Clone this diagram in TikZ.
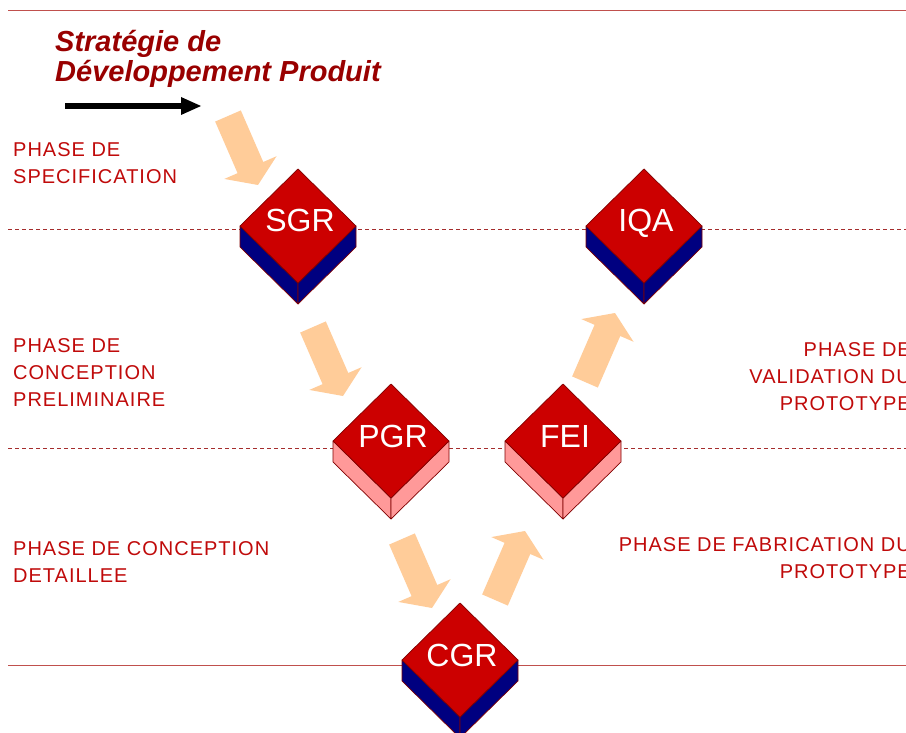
\documentclass[tikz,border=0pt]{standalone}
\usepackage{fontspec}
\setmainfont{Liberation Sans}
\newfontfamily\phasefont[LetterSpace=5]{Liberation Sans}
\usetikzlibrary{calc}
\definecolor{topc}{RGB}{204,0,0}
\definecolor{navyc}{RGB}{0,0,128}
\definecolor{pinkc}{RGB}{255,153,153}
\definecolor{edgec}{RGB}{128,0,0}
\definecolor{peachc}{RGB}{255,204,153}
\definecolor{rulec}{RGB}{192,80,77}
\definecolor{dashc}{RGB}{165,45,45}
\definecolor{phasec}{RGB}{192,10,10}
\definecolor{titlec}{RGB}{153,0,0}
\tikzset{
  rulesolid/.style={draw=rulec, line width=1pt},
  ruledash/.style={draw=dashc, line width=0.9pt, dash pattern=on 4pt off 3pt},
  phaselabel/.style={inner sep=0pt, text=phasec, font={\phasefont\fontsize{20}{27}\selectfont}},
  titletext/.style={inner sep=0pt, anchor=base west, text=titlec, font={\bfseries\itshape\fontsize{29}{30}\selectfont}},
  cubelabel/.style={inner sep=0pt, text=white, font={\fontsize{32}{34}\selectfont}},
  cubeside/.style={draw=edgec, line width=0.7pt, line join=round},
}
\newcommand\blockcube[5]{% name, x, y, side colour, label
  \begin{scope}[shift={(#2,#3)}]
    \filldraw[cubeside, fill=#4] (-58,0) -- (0,57) -- (0,78) -- (-58,21) -- cycle;
    \filldraw[cubeside, fill=#4] (58,0) -- (0,57) -- (0,78) -- (58,21) -- cycle;
    \filldraw[cubeside, fill=topc] (0,-57) -- (58,0) -- (0,57) -- (-58,0) -- cycle;
    \node[cubelabel, anchor=base] (#1) at (2,6) {#5};
  \end{scope}}
\newcommand\fatarrow[6]{% colour, shaft half, head half, head length, from, to
  \coordinate (fa-h) at ($(#6)!#4!(#5)$);
  \fill[#1] ($(#5)!#2!90:(#6)$) -- ($(fa-h)!#2!90:(#6)$) -- ($(fa-h)!#3!90:(#6)$) -- (#6)
    -- ($(fa-h)!#3!-90:(#6)$) -- ($(fa-h)!#2!-90:(#6)$) -- ($(#5)!#2!-90:(#6)$) -- cycle;}
\begin{document}
\begin{tikzpicture}[x=1pt, y=-1pt]
  \useasboundingbox (0,0) rectangle (906,733);
  \fill[white] (0,0) rectangle (906,733);
  \clip (0,0) rectangle (906,733);

  % rules
  \coordinate (r1a) at (8,10.5);  \coordinate (r1b) at (906,10.5);
  \coordinate (r2a) at (8,229);   \coordinate (r2b) at (906,229);
  \coordinate (r3a) at (8,448);   \coordinate (r3b) at (906,448);
  \coordinate (r4a) at (8,665);   \coordinate (r4b) at (906,665);
  \draw[rulesolid] (r1a) -- (r1b);
  \draw[ruledash] (r2a) -- (r2b);
  \draw[ruledash] (r3a) -- (r3b);
  \draw[rulesolid] (r4a) -- (r4b);

  % title
  \node[titletext] (title1) at (55,52) {Stratégie de};
  \node[titletext] (title2) at (55,82) {Développement Produit};
  \coordinate (ba1) at (65,106);
  \coordinate (ba2) at (201,106);
  \fatarrow{black}{2.8pt}{9pt}{20pt}{ba1}{ba2}

  % phase labels
  \node[phaselabel, anchor=north west, align=left] (ph1) at (13,142.7) {PHASE DE\\SPECIFICATION};
  \node[phaselabel, anchor=north west, align=left] (ph2) at (13,338.7) {PHASE DE\\CONCEPTION\\PRELIMINAIRE};
  \node[phaselabel, anchor=north west, align=left] (ph3) at (13,541.7) {PHASE DE CONCEPTION\\DETAILLEE};
  \node[phaselabel, anchor=north east, align=right] (ph4) at (911,342.7) {PHASE DE\\VALIDATION DU\\PROTOTYPE};
  \node[phaselabel, anchor=north east, align=right] (ph5) at (911,537.7) {PHASE DE FABRICATION DU\\PROTOTYPE};

  % peach arrows
  \coordinate (a1s) at (228,116);  \coordinate (a1t) at (258,185);
  \coordinate (a2s) at (313,327);  \coordinate (a2t) at (343,396);
  \coordinate (a3s) at (402,539);  \coordinate (a3t) at (432,608);
  \coordinate (a4s) at (495,600);  \coordinate (a4t) at (525,531);
  \coordinate (a5s) at (585,382);  \coordinate (a5t) at (615,313);
  \fatarrow{peachc}{14pt}{28.5pt}{19pt}{a1s}{a1t}
  \fatarrow{peachc}{14pt}{28.5pt}{19pt}{a2s}{a2t}
  \fatarrow{peachc}{14pt}{28.5pt}{19pt}{a3s}{a3t}
  \fatarrow{peachc}{14pt}{28.5pt}{19pt}{a4s}{a4t}
  \fatarrow{peachc}{14pt}{28.5pt}{19pt}{a5s}{a5t}

  % cubes
  \blockcube{sgr}{298}{226}{navyc}{SGR}
  \blockcube{iqa}{644}{226}{navyc}{IQA}
  \blockcube{pgr}{391}{441}{pinkc}{PGR}
  \blockcube{fei}{563}{441}{pinkc}{FEI}
  \blockcube{cgr}{460}{660}{navyc}{CGR}
\end{tikzpicture}
\end{document}
